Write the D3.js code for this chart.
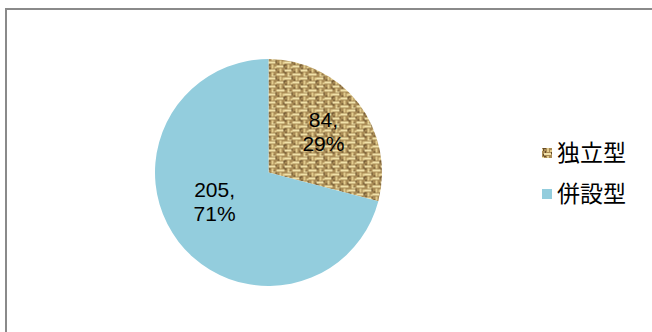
<!DOCTYPE html>
<html>
<head>
<meta charset="utf-8">
<script src="https://cdn.jsdelivr.net/npm/d3@7"></script>
<style>
  html, body { margin: 0; padding: 0; background: #fff; }
  svg { display: block; }
</style>
</head>
<body>
<svg id="chart" width="652" height="332"></svg>
<script>
// School type breakdown
const categories = ["独立型", "併設型"];
const counts = [84, 205];

const width = 652, height = 332;
const svg = d3.select("#chart");

// Woven burlap texture for the first slice
const defs = svg.append("defs");
const T = 16;
const pat = defs.append("pattern")
  .attr("id", "burlap")
  .attr("patternUnits", "userSpaceOnUse")
  .attr("width", T).attr("height", T);
pat.append("rect").attr("width", T).attr("height", T).attr("fill", "#a98b55");
// horizontal light strands
[[0,1,7],[8,5,8],[0,9,7],[8,13,8],[3,15,4]].forEach(([x,y,w]) => {
  pat.append("rect").attr("x", x).attr("y", y).attr("width", w).attr("height", 2).attr("fill", "#f1e2aa");
});
// vertical light strands
[[3,4,4],[11,0,4],[3,12,3],[11,8,4],[14,1,3],[6,6,2]].forEach(([x,y,h]) => {
  pat.append("rect").attr("x", x).attr("y", y).attr("width", 2).attr("height", h).attr("fill", "#e2cc8e");
});
// dark gaps between threads
[[0,4,2,1],[7,0,1,3],[15,4,1,3],[7,8,1,2],[0,12,2,1],[15,10,1,2],[9,3,2,1],[1,7,1,2],[9,11,2,1],[5,14,1,1]].forEach(([x,y,w,h]) => {
  pat.append("rect").attr("x", x).attr("y", y).attr("width", w).attr("height", h).attr("fill", "#654c2a");
});

const colors = ["url(#burlap)", "#93cddd"];

// Chart frame
svg.append("rect")
  .attr("x", 6).attr("y", 9)
  .attr("width", 700).attr("height", 400)
  .attr("fill", "none")
  .attr("stroke", "#8a8a8a")
  .attr("stroke-width", 2);

const cx = 268.5, cy = 172.5, r = 113.5;
const total = d3.sum(counts);
const pie = d3.pie().sort(null).value(d => d)(counts);
const arc = d3.arc().innerRadius(0).outerRadius(r);
const labelArc = d3.arc().innerRadius(r * 0.6).outerRadius(r * 0.6);

const g = svg.append("g").attr("transform", `translate(${cx},${cy})`);
g.selectAll("path.slice")
  .data(pie)
  .join("path")
  .attr("class", "slice")
  .attr("d", arc)
  .attr("fill", (d, i) => colors[i]);

// data labels: value and share, nudged to their usual spots
const labelNudge = [[1, 0], [0, -13]];
g.selectAll("text.lbl")
  .data(pie)
  .join("text")
  .attr("class", "lbl")
  .attr("font-family", "Liberation Sans, Arial, sans-serif")
  .attr("font-size", 21)
  .attr("fill", "#000")
  .attr("text-anchor", "middle")
  .each(function(d, i) {
    const [x0, y0] = labelArc.centroid(d);
    const x = x0 + labelNudge[i][0], y = y0 + labelNudge[i][1];
    const pct = Math.round(d.value / total * 100);
    const t = d3.select(this);
    t.append("tspan").attr("x", x).attr("y", y - 4).text(d.value + ",");
    t.append("tspan").attr("x", x).attr("y", y + 20).text(pct + "%");
  });

// Legend
const legend = svg.append("g");
categories.forEach((c, i) => {
  const y = 153 + i * 41;
  legend.append("rect")
    .attr("x", 542).attr("y", y - 5)
    .attr("width", 10).attr("height", 10)
    .attr("fill", colors[i]);
  legend.append("text")
    .attr("x", 557).attr("y", y + 8)
    .attr("font-family", "Noto Sans CJK JP, sans-serif")
    .attr("font-size", 23)
    .attr("fill", "#000")
    .text(c);
});
</script>
</body>
</html>
